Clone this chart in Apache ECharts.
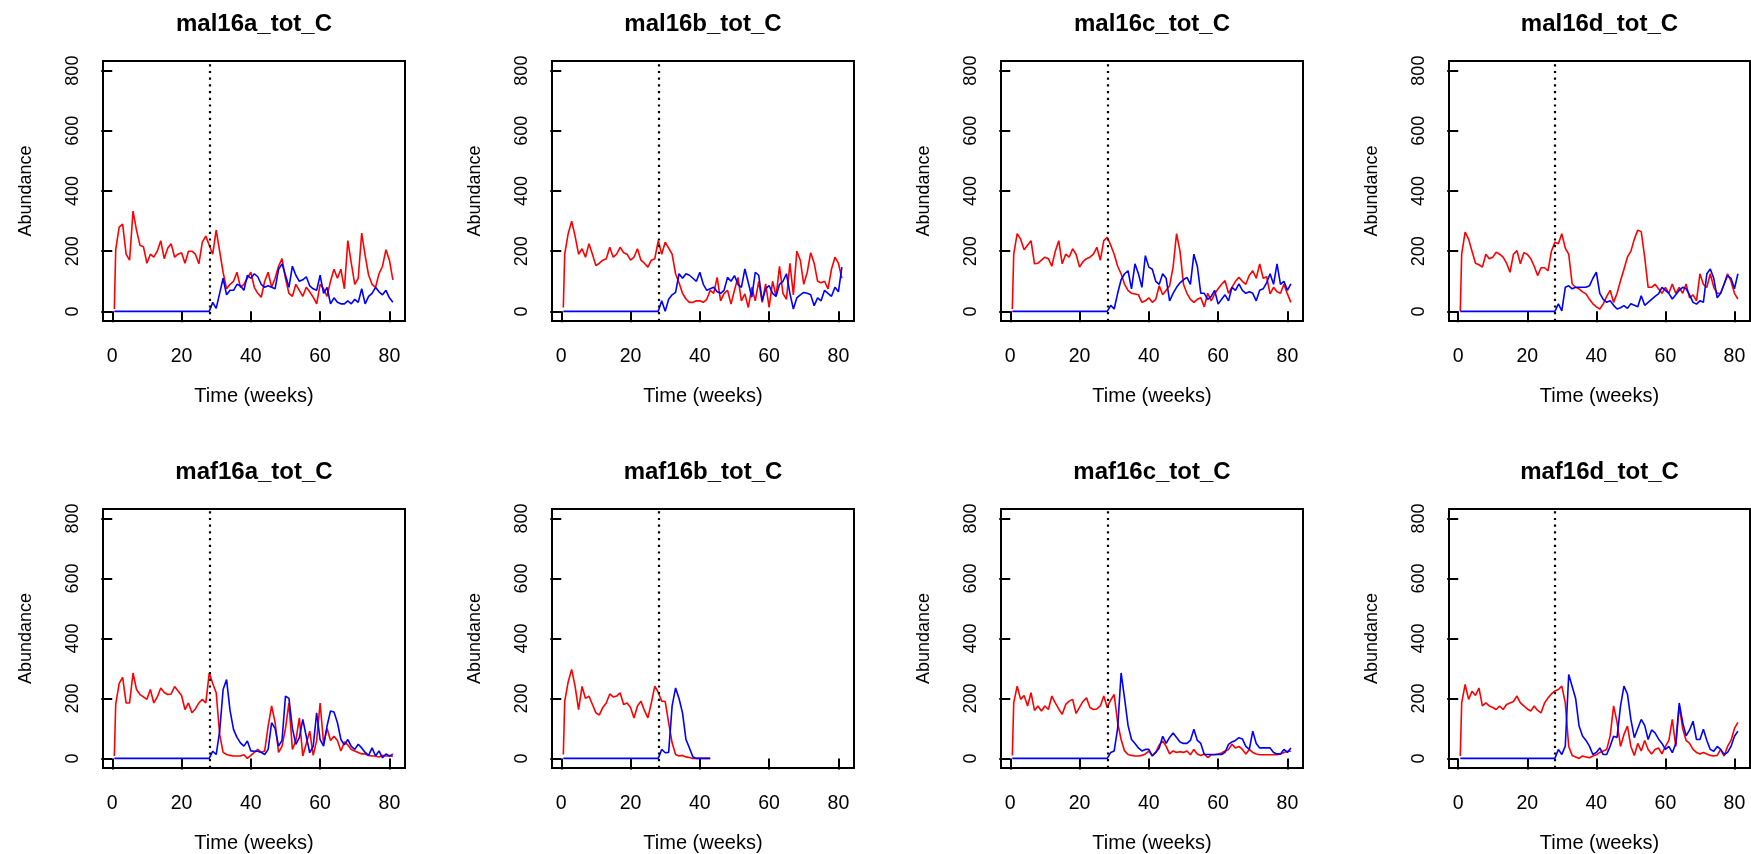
<!DOCTYPE html>
<html>
<head>
<meta charset="utf-8">
<script src="https://cdn.jsdelivr.net/npm/echarts@6/dist/echarts.min.js"></script>
<style>
  html, body { margin: 0; padding: 0; background: #ffffff; }
  #chart { width: 1751px; height: 854px; }
</style>
</head>
<body>
<div id="chart"></div>
<script>
// Sampling times (weeks); first entry is the initial census
const weeks = [0.6, 1, 2, 3, 4, 5, 6, 7, 8, 9, 10, 11, 12, 13, 14, 15, 16, 17, 18, 19, 20,
  21, 22, 23, 24, 25, 26, 27, 28, 29, 30, 31, 32, 33, 34, 35, 36, 37, 38, 39, 40,
  41, 42, 43, 44, 45, 46, 47, 48, 49, 50, 51, 52, 53, 54, 55, 56, 57, 58, 59, 60,
  61, 62, 63, 64, 65, 66, 67, 68, 69, 70, 71, 72, 73, 74, 75, 76, 77, 78, 79, 80, 81];

const introWeek = 28;
const xTicks = [0, 20, 40, 60, 80];
const yTicks = [0, 200, 400, 600, 800];

const panelTitles = ['mal16a_tot_C', 'mal16b_tot_C', 'mal16c_tot_C', 'mal16d_tot_C',
                     'maf16a_tot_C', 'maf16b_tot_C', 'maf16c_tot_C', 'maf16d_tot_C'];

// Abundance per sampling time: red = resident line, blue = introduced line
const mal16a_red = [8,
  205, 280, 290, 190, 170, 333, 270, 220, 215, 160,
  190, 180, 200, 235, 175, 210, 225, 180, 190, 195,
  160, 200, 200, 190, 158, 230, 250, 220, 190, 270,
  200, 130, 75, 90, 100, 130, 80, 90, 110, 130,
  80, 60, 47, 100, 130, 80, 110, 150, 175, 110,
  60, 50, 90, 70, 50, 80, 65, 47, 25, 90,
  75, 50, 100, 140, 110, 140, 75, 235, 160, 90,
  110, 260, 185, 120, 90, 80, 125, 150, 205, 170,
  105];
const mal16a_blue = [0,
  0, 0, 0, 0, 0, 0, 0, 0, 0, 0,
  0, 0, 0, 0, 0, 0, 0, 0, 0, 0,
  0, 0, 0, 0, 0, 0, 0, 0, 30, 10,
  60, 110, 55, 70, 70, 90, 85, 70, 120, 110,
  125, 115, 90, 80, 85, 80, 75, 140, 158, 120,
  80, 150, 120, 100, 105, 115, 85, 75, 70, 120,
  60, 80, 25, 45, 30, 25, 25, 35, 25, 40,
  30, 75, 25, 50, 60, 80, 65, 55, 70, 45,
  30];

const mal16b_red = [13,
  190, 258, 300, 250, 190, 208, 180, 225, 190, 152,
  160, 170, 175, 213, 180, 190, 213, 195, 190, 170,
  180, 208, 170, 160, 147, 170, 175, 235, 190, 230,
  210, 190, 125, 95, 60, 41, 30, 30, 35, 35,
  30, 40, 70, 60, 113, 35, 60, 70, 24, 70,
  113, 35, 58, 13, 80, 35, 100, 30, 91, 13,
  100, 50, 150, 60, 40, 160, 55, 200, 170, 90,
  130, 195, 160, 100, 95, 100, 75, 140, 180, 160,
  110];
const mal16b_blue = [0,
  0, 0, 0, 0, 0, 0, 0, 0, 0, 0,
  0, 0, 0, 0, 0, 0, 0, 0, 0, 0,
  0, 0, 0, 0, 0, 0, 0, 0, 35, 0,
  40, 55, 63, 125, 110, 125, 120, 110, 100, 130,
  90, 70, 75, 80, 65, 60, 70, 113, 100, 119,
  90, 80, 141, 95, 47, 130, 120, 35, 75, 86,
  60, 50, 90, 100, 125, 60, 8, 45, 55, 63,
  60, 55, 19, 45, 35, 70, 60, 50, 80, 65,
  147];

const mal16c_red = [8,
  190, 258, 240, 205, 220, 235, 158, 160, 170, 180,
  175, 150, 200, 235, 158, 190, 180, 208, 190, 147,
  165, 175, 180, 190, 213, 170, 235, 246, 220, 190,
  150, 125, 90, 70, 60, 58, 55, 30, 35, 45,
  30, 40, 85, 55, 70, 85, 147, 258, 200, 90,
  60, 40, 30, 40, 45, 15, 60, 35, 58, 75,
  90, 102, 60, 80, 100, 113, 100, 90, 120, 135,
  110, 158, 110, 115, 58, 80, 65, 60, 90, 58,
  30];
const mal16c_blue = [0,
  0, 0, 0, 0, 0, 0, 0, 0, 0, 0,
  0, 0, 0, 0, 0, 0, 0, 0, 0, 0,
  0, 0, 0, 0, 0, 0, 0, 0, 20, 8,
  60, 105, 125, 135, 75, 158, 125, 80, 185, 147,
  140, 100, 90, 125, 110, 35, 60, 80, 95, 105,
  113, 90, 190, 150, 60, 60, 40, 50, 70, 24,
  40, 55, 35, 80, 70, 91, 70, 60, 65, 60,
  35, 70, 75, 95, 125, 90, 158, 90, 100, 70,
  91];

const mal16d_red = [0,
  190, 263, 240, 200, 160, 155, 147, 190, 175, 180,
  197, 190, 180, 160, 130, 190, 202, 158, 195, 190,
  175, 150, 119, 145, 145, 135, 200, 230, 225, 258,
  210, 190, 91, 80, 75, 65, 58, 40, 25, 15,
  8, 25, 50, 70, 30, 60, 102, 140, 180, 200,
  240, 270, 265, 180, 80, 80, 90, 75, 60, 80,
  60, 91, 60, 80, 60, 91, 45, 55, 35, 125,
  90, 80, 125, 80, 60, 60, 91, 125, 100, 60,
  41];
const mal16d_blue = [0,
  0, 0, 0, 0, 0, 0, 0, 0, 0, 0,
  0, 0, 0, 0, 0, 0, 0, 0, 0, 0,
  0, 0, 0, 0, 0, 0, 0, 0, 25, 2,
  80, 85, 75, 80, 80, 80, 80, 85, 110, 130,
  60, 40, 30, 35, 20, 8, 12, 19, 10, 25,
  20, 15, 52, 20, 30, 40, 50, 58, 80, 70,
  60, 41, 55, 70, 80, 75, 55, 30, 24, 35,
  30, 125, 141, 110, 45, 60, 90, 119, 110, 75,
  125];

const maf16a_red = [8,
  180, 250, 270, 185, 185, 285, 230, 213, 205, 197,
  230, 185, 205, 235, 220, 213, 215, 240, 225, 210,
  163, 185, 152, 165, 185, 197, 185, 285, 250, 219,
  80, 20, 13, 10, 8, 8, 8, 12, 0, 10,
  20, 30, 20, 25, 108, 175, 120, 20, 40, 100,
  185, 30, 60, 135, 8, 50, 91, 10, 60, 185,
  50, 100, 60, 74, 60, 25, 55, 45, 30, 25,
  20, 15, 15, 10, 8, 8, 5, 10, 8, 8,
  15];
const maf16a_blue = [0,
  0, 0, 0, 0, 0, 0, 0, 0, 0, 0,
  0, 0, 0, 0, 0, 0, 0, 0, 0, 0,
  0, 0, 0, 0, 0, 0, 0, 0, 24, 13,
  90, 230, 263, 160, 97, 70, 52, 41, 58, 25,
  24, 24, 20, 13, 30, 119, 100, 41, 60, 208,
  200, 100, 47, 69, 130, 74, 19, 40, 152, 63,
  41, 108, 158, 155, 119, 63, 45, 63, 40, 30,
  47, 35, 20, 10, 35, 8, 25, 2, 15, 8,
  8];

// maf16b was only followed up to week 43
const maf16b_red = [13,
  190, 255, 297, 240, 163, 240, 200, 208, 180, 152,
  145, 170, 185, 215, 205, 208, 219, 180, 185, 170,
  135, 175, 191, 160, 135, 185, 241, 220, 191, 190,
  119, 52, 13, 8, 10, 5, 3, 0, 0, 0,
  0, 0, 0];
const maf16b_blue = [0,
  0, 0, 0, 0, 0, 0, 0, 0, 0, 0,
  0, 0, 0, 0, 0, 0, 0, 0, 0, 0,
  0, 0, 0, 0, 0, 0, 0, 0, 30, 19,
  20, 175, 235, 200, 152, 63, 35, 5, 0, 0,
  0, 0, 0];

const maf16c_red = [10,
  185, 241, 197, 210, 175, 219, 160, 175, 158, 175,
  163, 208, 185, 165, 147, 180, 191, 197, 150, 170,
  190, 202, 170, 163, 165, 175, 208, 170, 195, 213,
  119, 63, 25, 13, 10, 8, 8, 10, 15, 24,
  10, 20, 45, 58, 40, 15, 25, 20, 22, 20,
  25, 12, 30, 15, 10, 15, 3, 12, 12, 15,
  18, 25, 30, 47, 35, 40, 30, 15, 30, 20,
  15, 12, 12, 12, 12, 12, 12, 15, 20, 24,
  24];
const maf16c_blue = [0,
  0, 0, 0, 0, 0, 0, 0, 0, 0, 0,
  0, 0, 0, 0, 0, 0, 0, 0, 0, 0,
  0, 0, 0, 0, 0, 0, 0, 0, 20, 25,
  100, 285, 200, 110, 63, 50, 35, 25, 30, 30,
  8, 20, 35, 74, 50, 70, 85, 70, 55, 50,
  50, 60, 97, 60, 50, 13, 13, 13, 13, 13,
  13, 20, 47, 55, 60, 69, 65, 40, 30, 91,
  50, 35, 35, 35, 35, 20, 15, 15, 30, 20,
  35];

const maf16d_red = [8,
  185, 247, 197, 224, 210, 235, 175, 185, 175, 170,
  163, 175, 163, 180, 185, 190, 208, 185, 175, 165,
  158, 175, 160, 152, 185, 202, 215, 225, 230, 241,
  185, 40, 10, 5, 0, 8, 5, 2, 8, 12,
  20, 25, 30, 75, 175, 120, 40, 80, 108, 40,
  10, 50, 25, 60, 30, 15, 30, 35, 15, 40,
  60, 130, 40, 175, 100, 60, 50, 30, 20, 15,
  20, 15, 10, 8, 10, 30, 8, 40, 60, 100,
  120];
const maf16d_blue = [0,
  0, 0, 0, 0, 0, 0, 0, 0, 0, 0,
  0, 0, 0, 0, 0, 0, 0, 0, 0, 0,
  0, 0, 0, 0, 0, 0, 0, 0, 30, 13,
  41, 280, 240, 200, 108, 75, 60, 41, 13, 20,
  35, 13, 13, 41, 74, 70, 175, 241, 215, 130,
  69, 100, 130, 110, 63, 95, 85, 65, 50, 30,
  40, 19, 50, 185, 120, 75, 95, 124, 63, 63,
  97, 60, 30, 24, 40, 30, 13, 20, 40, 74,
  91];

const redSeries = [mal16a_red, mal16b_red, mal16c_red, mal16d_red,
                   maf16a_red, maf16b_red, maf16c_red, maf16d_red];
const blueSeries = [mal16a_blue, mal16b_blue, mal16c_blue, mal16d_blue,
                    maf16a_blue, maf16b_blue, maf16c_blue, maf16d_blue];

// ---- layout: 2 rows x 4 columns of framed panels ----
const colLeft = [103, 552, 1001, 1449];
const rowTop = [61, 509];
const boxW = 302, boxH = 260;
const FONT = 'Liberation Sans';

const toPairs = arr => arr.map((v, k) => [weeks[k], v]);

const option = {
  animation: false,
  backgroundColor: '#ffffff',
  title: [], grid: [], xAxis: [], yAxis: [], series: []
};

panelTitles.forEach((name, i) => {
  const col = i % 4, row = Math.floor(i / 4);
  const left = colLeft[col], top = rowTop[row];
  const w = col === 3 ? boxW - 1 : boxW;

  option.grid.push({
    left: left, top: top, width: w, height: boxH,
    show: true, borderColor: '#000000', borderWidth: 2,
    backgroundColor: 'transparent', containLabel: false
  });

  option.title.push({
    text: name, left: left + w / 2, top: top - 49,
    textAlign: 'center', padding: 0,
    textStyle: { fontFamily: FONT, fontWeight: 'bold', fontSize: 24, color: '#000000' }
  });

  option.xAxis.push({
    gridIndex: i, type: 'value', min: -2.67, max: 84.5,
    axisLine: { show: false },
    splitLine: { show: false },
    axisTick: { show: true, length: 11, customValues: xTicks,
                lineStyle: { color: '#000000', width: 2 } },
    axisLabel: { customValues: xTicks, margin: 26, fontFamily: FONT,
                 fontSize: 19.5, color: '#000000' },
    name: 'Time (weeks)', nameLocation: 'middle', nameGap: 65,
    nameTextStyle: { fontFamily: FONT, fontSize: 20, color: '#000000' }
  });

  option.yAxis.push({
    gridIndex: i, type: 'value', min: -32, max: 832,
    axisLine: { show: false },
    splitLine: { show: false },
    axisTick: { show: true, length: 11, customValues: yTicks,
                lineStyle: { color: '#000000', width: 2 } },
    axisLabel: { customValues: yTicks, rotate: 90, margin: 21, fontFamily: FONT,
                 fontSize: 18, color: '#000000' },
    name: 'Abundance', nameLocation: 'middle', nameGap: 68, nameRotate: 90,
    nameTextStyle: { fontFamily: FONT, fontSize: 18, color: '#000000' }
  });

  option.series.push({
    type: 'line', xAxisIndex: i, yAxisIndex: i, silent: true,
    data: toPairs(redSeries[i]), symbol: 'none', showSymbol: false,
    lineStyle: { color: '#ff0000', width: 1.6 }, itemStyle: { color: '#ff0000' },
    z: 2
  });

  option.series.push({
    type: 'line', xAxisIndex: i, yAxisIndex: i, silent: true,
    data: toPairs(blueSeries[i]), symbol: 'none', showSymbol: false,
    lineStyle: { color: '#0000ff', width: 1.6 }, itemStyle: { color: '#0000ff' },
    z: 3,
    markLine: {
      silent: true, symbol: 'none', animation: false,
      label: { show: false },
      lineStyle: { color: '#000000', type: [2.2, 4.5], width: 2.2 },
      data: [{ xAxis: introWeek }]
    }
  });
});

const chart = echarts.init(document.getElementById('chart'), null, { renderer: 'canvas' });
chart.setOption(option);
</script>
</body>
</html>
